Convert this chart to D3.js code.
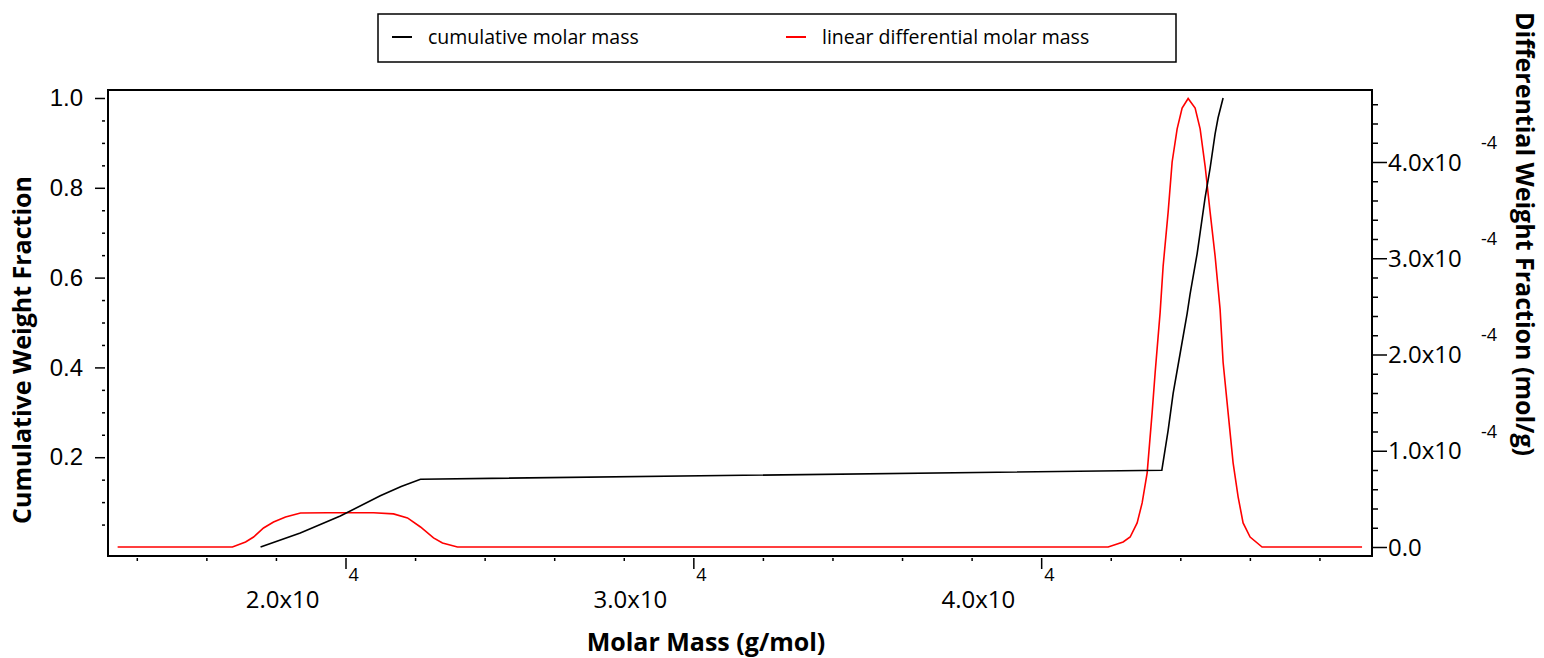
<!DOCTYPE html>
<html>
<head>
<meta charset="utf-8">
<script src="https://cdn.jsdelivr.net/npm/d3@7"></script>
<style>
  body { margin: 0; background: #fff; }
  svg { font-family: "Open Sans", "Noto Sans", sans-serif; }
  .domain { display: none; }
  .tick line { stroke: #000; stroke-width: 1.5; }
</style>
</head>
<body>
<svg width="1544" height="658"></svg>
<script>
// cumulative molar mass (g/mol) vs cumulative weight fraction
var cumMass = [17558, 18700, 19850, 21000, 21600, 22156, 43469, 43650, 43794, 43995, 44196,
  44282, 44483, 44570, 44713, 44857, 45000, 45086, 45230];
var cumFraction = [0.0, 0.031, 0.069, 0.114, 0.135, 0.151, 0.171, 0.26, 0.342, 0.431, 0.52,
  0.564, 0.653, 0.70, 0.778, 0.844, 0.92, 0.956, 1.0];

// linear differential molar mass (g/mol) vs differential weight fraction (mol/g)
var diffMass = [13449, 16750, 17127, 17357, 17644, 17931, 18276, 18707, 19483, 20805,
  21380, 21782, 22156, 22530, 22788, 23219, 41926, 42357, 42558, 42759,
  42903, 43047, 43190, 43277, 43420, 43506, 43650, 43765, 43909, 44052,
  44225, 44426, 44570, 44713, 44857, 45001, 45144, 45231, 45374, 45518,
  45662, 45805, 46007, 46351, 49225];
var diffValue = [0, 0, 0.052e-4, 0.104e-4, 0.198e-4, 0.26e-4, 0.3125e-4, 0.354e-4, 0.356e-4, 0.356e-4,
  0.344e-4, 0.302e-4, 0.208e-4, 0.094e-4, 0.042e-4, 0, 0, 0.052e-4, 0.104e-4, 0.25e-4,
  0.458e-4, 0.771e-4, 1.396e-4, 1.8125e-4, 2.4375e-4, 2.917e-4, 3.479e-4, 4.0e-4, 4.344e-4, 4.56e-4,
  4.66e-4, 4.56e-4, 4.344e-4, 3.958e-4, 3.479e-4, 3.021e-4, 2.469e-4, 1.917e-4, 1.396e-4, 0.875e-4,
  0.521e-4, 0.25e-4, 0.104e-4, 0, 0];

var xMajor = [20000, 30000, 40000];
var xLabels = ["2.0x10", "3.0x10", "4.0x10"];
var leftMajor = [0.2, 0.4, 0.6, 0.8, 1.0];
var rightMajor = [0, 1e-4, 2e-4, 3e-4, 4e-4];
var rightLabels = ["0.0", "1.0x10", "2.0x10", "3.0x10", "4.0x10"];
var seriesNames = ["cumulative molar mass", "linear differential molar mass"];
var seriesColors = ["#000000", "#ff0000"];

var svg = d3.select("svg");
var plotLeft = 108, plotRight = 1372, plotTop = 90, plotBottom = 556;

var x = d3.scaleLinear().domain([13172, 49511]).range([plotLeft, plotRight]);
var yL = d3.scaleLinear().domain([-0.02, 1.0178]).range([plotBottom, plotTop]);
var yR = d3.scaleLinear().domain([-0.0935e-4, 4.748e-4]).range([plotBottom, plotTop]);

// minor tick values
var xMinor = d3.range(14000, 49000, 2000).filter(function(v) { return xMajor.indexOf(v) < 0; });
var leftMinor = d3.range(1, 21).map(function(i) { return i * 0.05; })
  .filter(function(v) { return Math.abs(v * 5 - Math.round(v * 5)) > 1e-6; });
var rightMinor = d3.range(1, 24).map(function(i) { return i * 0.2e-4; })
  .filter(function(v) { return Math.abs(v * 1e4 - Math.round(v * 1e4)) > 1e-6; });

// left axis
svg.append("g").attr("transform", "translate(" + (plotLeft - 3) + ",0)")
  .call(d3.axisLeft(yL).tickValues(leftMinor).tickSize(3).tickFormat(""));
svg.append("g").attr("transform", "translate(" + (plotLeft - 3) + ",0)")
  .call(d3.axisLeft(yL).tickValues(leftMajor).tickSize(10).tickPadding(12).tickFormat(d3.format(".1f")))
  .selectAll("text").attr("font-size", 24).attr("fill", "#000").style("font-family", "inherit");

// bottom axis
svg.append("g").attr("transform", "translate(0," + (plotBottom + 2) + ")")
  .call(d3.axisBottom(x).tickValues(xMinor).tickSize(3).tickFormat(""));
svg.append("g").attr("transform", "translate(0," + (plotBottom + 2) + ")")
  .call(d3.axisBottom(x).tickValues(xMajor).tickSize(11).tickFormat(""));

var xl = svg.append("g").selectAll("g").data(xMajor).enter().append("g");
xl.append("text")
  .attr("x", function(d) { return x(d) - 26; })
  .attr("y", 608)
  .attr("text-anchor", "end")
  .attr("font-size", 24)
  .text(function(d, i) { return xLabels[i]; });
xl.append("text")
  .attr("x", function(d) { return x(d) + 3; })
  .attr("y", 581)
  .attr("font-size", 18)
  .text("4");

// right axis
svg.append("g").attr("transform", "translate(" + (plotRight + 1) + ",0)")
  .call(d3.axisRight(yR).tickValues(rightMinor).tickSize(5).tickFormat(""));
svg.append("g").attr("transform", "translate(" + (plotRight + 1) + ",0)")
  .call(d3.axisRight(yR).tickValues(rightMajor).tickSize(14).tickFormat(""));

var rl = svg.append("g").selectAll("g").data(rightMajor).enter().append("g");
rl.append("text")
  .attr("x", plotRight + 16)
  .attr("y", function(d) { return yR(d); })
  .attr("dy", "0.36em")
  .attr("font-size", 24)
  .text(function(d, i) { return rightLabels[i]; });
rl.filter(function(d) { return d > 0; }).append("text")
  .attr("x", plotRight + 109)
  .attr("y", function(d) { return yR(d) - 13; })
  .attr("font-size", 18)
  .text("-4");

// frame
svg.append("rect")
  .attr("x", plotLeft).attr("y", plotTop)
  .attr("width", plotRight - plotLeft).attr("height", plotBottom - plotTop)
  .attr("fill", "none").attr("stroke", "#000").attr("stroke-width", 2);

// series
var cumData = cumMass.map(function(m, i) { return [m, cumFraction[i]]; });
var diffData = diffMass.map(function(m, i) { return [m, diffValue[i]]; });

svg.append("path")
  .datum(diffData)
  .attr("fill", "none")
  .attr("stroke", seriesColors[1])
  .attr("stroke-width", 1.6)
  .attr("d", d3.line().x(function(d) { return x(d[0]); }).y(function(d) { return yR(d[1]); }));

svg.append("path")
  .datum(cumData)
  .attr("fill", "none")
  .attr("stroke", seriesColors[0])
  .attr("stroke-width", 1.6)
  .attr("d", d3.line().x(function(d) { return x(d[0]); }).y(function(d) { return yL(d[1]); }));

// axis titles
svg.append("text")
  .attr("transform", "translate(31,350) rotate(-90)")
  .attr("text-anchor", "middle")
  .attr("font-size", 25).attr("font-weight", "bold")
  .text("Cumulative Weight Fraction");
svg.append("text")
  .attr("transform", "translate(1516,234) rotate(90)")
  .attr("text-anchor", "middle")
  .attr("font-size", 25).attr("font-weight", "bold")
  .text("Differential Weight Fraction (mol/g)");
svg.append("text")
  .attr("x", 706).attr("y", 651)
  .attr("text-anchor", "middle")
  .attr("font-size", 25).attr("font-weight", "bold")
  .text("Molar Mass (g/mol)");

// legend
var legend = svg.append("g");
legend.append("rect")
  .attr("x", 378).attr("y", 14).attr("width", 798).attr("height", 48)
  .attr("fill", "#fff").attr("stroke", "#000").attr("stroke-width", 1.5);
var lx = [392, 786];
seriesNames.forEach(function(name, i) {
  legend.append("line")
    .attr("x1", lx[i]).attr("x2", lx[i] + 20)
    .attr("y1", 37).attr("y2", 37)
    .attr("stroke", seriesColors[i]).attr("stroke-width", 2);
  legend.append("text")
    .attr("x", lx[i] + 36).attr("y", 37)
    .attr("dy", "0.35em")
    .attr("font-size", 19.5)
    .text(name);
});
</script>
</body>
</html>
